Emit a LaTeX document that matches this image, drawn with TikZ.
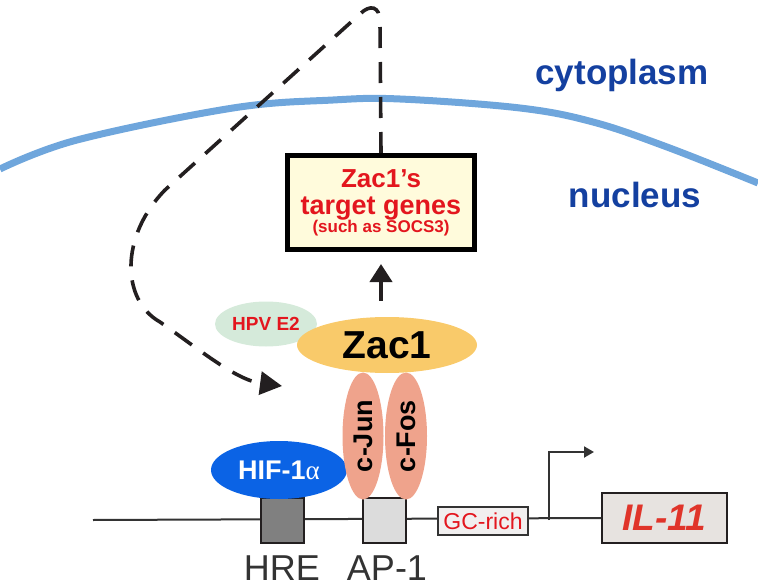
\documentclass[tikz,border=0pt]{standalone}
\usepackage{fontspec}
\setmainfont{Liberation Sans}
\newfontfamily\greekf{Liberation Serif}
\usetikzlibrary{arrows.meta,shapes.geometric}
\definecolor{membrane}{HTML}{6FA6DC}
\definecolor{compblue}{HTML}{1440A0}
\definecolor{txtred}{HTML}{E3161E}
\definecolor{ilred}{HTML}{E0342A}
\definecolor{boxfill}{HTML}{FFFBDC}
\definecolor{zacfill}{HTML}{F9CA6A}
\definecolor{hpvfill}{HTML}{D5EADA}
\definecolor{salmon}{HTML}{EFA38C}
\definecolor{hifblue}{HTML}{0B63E5}
\definecolor{hregray}{HTML}{808080}
\definecolor{apgray}{HTML}{DCDCDC}
\definecolor{gcfill}{HTML}{F1EFEF}
\definecolor{ilfill}{HTML}{E7E3E0}
\definecolor{ink}{HTML}{231F20}
\definecolor{labgray}{HTML}{333333}
\newcommand\fsz[2]{\fontsize{#1}{#2}\selectfont}
\begin{document}
\begin{tikzpicture}[x=1pt,y=-1pt,
  prot/.style={ellipse, inner sep=0pt, draw=none},
  site/.style={rectangle, inner sep=0pt, draw=ink, line width=1.4pt},
  comp/.style={text=compblue, font=\bfseries\fsz{35}{40}},
  dna/.style={draw=labgray, line width=2pt},
  dashpath/.style={draw=ink, line width=3.6pt, dash pattern=on 21pt off 14pt},
  poslab/.style={text=labgray, font=\fsz{36}{40}, anchor=base, inner sep=0pt}]
\useasboundingbox (0,0) rectangle (758,583);
% membrane
\draw[membrane, line width=7pt] plot[smooth, tension=0.6] coordinates
  {(0,169) (77,140) (233,108) (333,100) (400,99) (520,108) (593,122) (667,147) (758,183)};
\node[comp] (cyto) at (622,75) {cytoplasm};
\node[comp] (nuc) at (635,195) {nucleus};
% DNA
\coordinate (dnastart) at (93,520);
\node[site, fill=ilfill, minimum width=125pt, minimum height=50pt,
  text=ilred, font=\bfseries\itshape\fsz{37}{40}] (il) at (664.5,518) {IL-11};
\draw[dna] (dnastart) -- (il.west);
\node[site, fill=hregray, minimum width=43pt, minimum height=45pt] (hre) at (282.5,520.5) {};
\node[site, fill=apgray, minimum width=43pt, minimum height=45pt] (ap) at (384.5,520.5) {};
\node[site, draw=labgray, line width=1.2pt, fill=gcfill, minimum width=90pt, minimum height=28pt,
  text=txtred, font=\fsz{23}{24}] (gc) at (483,521) {GC-rich};
\coordinate (tss) at (549,520);
\coordinate (tssend) at (594,452);
\draw[dna, -{Triangle[width=11pt,length=10pt]}] (tss) |- (tssend);
\node[poslab] (hrelab) at (282,580) {HRE};
\node[poslab] (aplab) at (387,580) {AP-1};
% proteins
\node[prot, fill=hifblue, minimum width=136pt, minimum height=58pt,
  text=white, font=\bfseries\fsz{27}{30}] (hif) at (279,470) {HIF-1{\greekf\mdseries α}};
\node[prot, fill=hpvfill, minimum width=102pt, minimum height=45pt,
  text=txtred, font=\bfseries\fsz{19}{22}] (hpv) at (266,324) {HPV E2};
\node[prot, fill=salmon, rotate=90, minimum width=127pt, minimum height=41pt,
  font=\bfseries\fsz{27}{28}] (jun) at (363,436) {c-Jun};
\node[prot, fill=salmon, rotate=90, minimum width=127pt, minimum height=42pt,
  font=\bfseries\fsz{27}{28}] (fos) at (406,436) {c-Fos};
\node[prot, fill=zacfill, minimum width=180pt, minimum height=56pt,
  font=\bfseries\fsz{39}{42}] (zac) at (387,345) {Zac1};
% target genes box
\node[rectangle, draw=black, line width=5pt, fill=boxfill, inner sep=0pt,
  minimum width=187pt, minimum height=94pt, align=center, text=txtred,
  font=\bfseries\fsz{17}{19}] (genes) at (381,202.5)
  {\fsz{26}{19}Zac1’s\\[8pt]\fsz{27}{19}target genes\\[-1pt]\fsz{17}{19}(such as SOCS3)};
% arrows
\draw[ink, line width=4pt, shorten >=12pt, -{Triangle[width=22pt,length=18pt]}]
  ([yshift=16pt]genes.south |- zac.north) -- (genes.south);
\draw[dashpath, -{Triangle[width=23pt,length=22pt]}]
  (genes.north) -- (380,22) .. controls (380,6) and (370,4) .. (360,14)
  -- (165,190) .. controls (120,236) and (121,300) .. (160,322)
  .. controls (200,350) and (236,380) .. (282,386);
\end{tikzpicture}
\end{document}
